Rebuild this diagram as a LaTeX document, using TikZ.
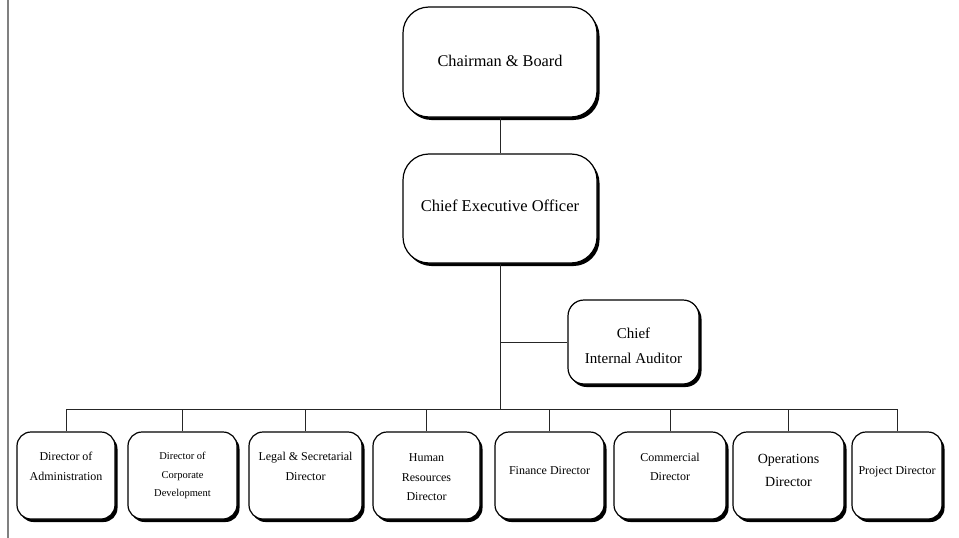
\documentclass[tikz,border=0pt]{standalone}
\usepackage{fontspec}
\setmainfont{Liberation Serif}
\usetikzlibrary{shadows}

\begin{document}
\begin{tikzpicture}[x=1pt, y=-1pt,
	box/.style={draw=black, line width=1.2pt, rounded corners=#1, fill=white, align=center, inner sep=0pt,
		drop shadow={shadow xshift=2.5pt, shadow yshift=-3pt, fill=black, opacity=1}},
	box/.default=14pt,
	dirbox/.style={box, minimum height=87pt, font=\fontsize{#1}{19.5}\selectfont},
	dirbox/.default=12,
	link/.style={draw=black!85, line width=0.8pt}]
	\useasboundingbox (0,0) rectangle (959,538);
	\draw[gray, line width=1.2pt] (8,0) -- (8,538);

	% top of the chart
	\node[box=26pt, minimum width=194pt, minimum height=110pt, font=\fontsize{16.3}{20}\selectfont, text depth=1.7pt] (chair) at (500,62) {Chairman \& Board};
	\node[box=26pt, minimum width=194pt, minimum height=109pt, font=\fontsize{16.5}{20}\selectfont, text depth=5pt] (ceo) at (500,208.5) {Chief Executive Officer};
	\node[box=16pt, minimum width=131pt, minimum height=84pt, font=\fontsize{15}{25}\selectfont, text height=42pt, text depth=0pt] (audit) at (633.5,342) {Chief\\Internal Auditor};

	% directors
	\node[dirbox, minimum width=98pt, text depth=18.7pt] (admin) at (66,475.5) {Director of\\Administration};
	\node[dirbox, minimum width=109pt, font=\fontsize{10.5}{18.7}\selectfont] (corpdev) at (182.5,475.5) {Director of\\Corporate\\Development};
	\node[dirbox, minimum width=113pt, text depth=18.7pt] (legal) at (305.5,475.5) {Legal \& Secretarial\\Director};
	\node[dirbox, minimum width=107pt, text height=50pt, text depth=0pt] (hr) at (426.5,475.5) {Human\\Resources\\Director};
	\node[dirbox, minimum width=109pt, text depth=9pt] (finance) at (549.5,475.5) {Finance Director};
	\node[dirbox, minimum width=112pt, text depth=17.3pt] (commercial) at (670,475.5) {Commercial\\Director};
	\node[dirbox, minimum width=111pt, font=\fontsize{14}{23.4}\selectfont, text depth=10.6pt] (ops) at (788.5,475.5) {Operations\\Director};
	\node[dirbox, minimum width=90pt, text depth=9pt] (project) at (897,475.5) {Project Director};

	% connectors
	\coordinate (bus) at (500,409);
	\draw[link] (chair.south) -- (ceo.north);
	\draw[link] (ceo.south) -- (bus);
	\draw[link] (ceo.south |- audit.west) -- (audit.west);
	\draw[link] (admin.north |- bus) -- (project.north |- bus);
	\draw[link] (admin.north |- bus) -- (admin.north);
	\draw[link] (corpdev.north |- bus) -- (corpdev.north);
	\draw[link] (legal.north |- bus) -- (legal.north);
	\draw[link] (hr.north |- bus) -- (hr.north);
	\draw[link] (finance.north |- bus) -- (finance.north);
	\draw[link] (commercial.north |- bus) -- (commercial.north);
	\draw[link] (ops.north |- bus) -- (ops.north);
	\draw[link] (project.north |- bus) -- (project.north);
\end{tikzpicture}
\end{document}
